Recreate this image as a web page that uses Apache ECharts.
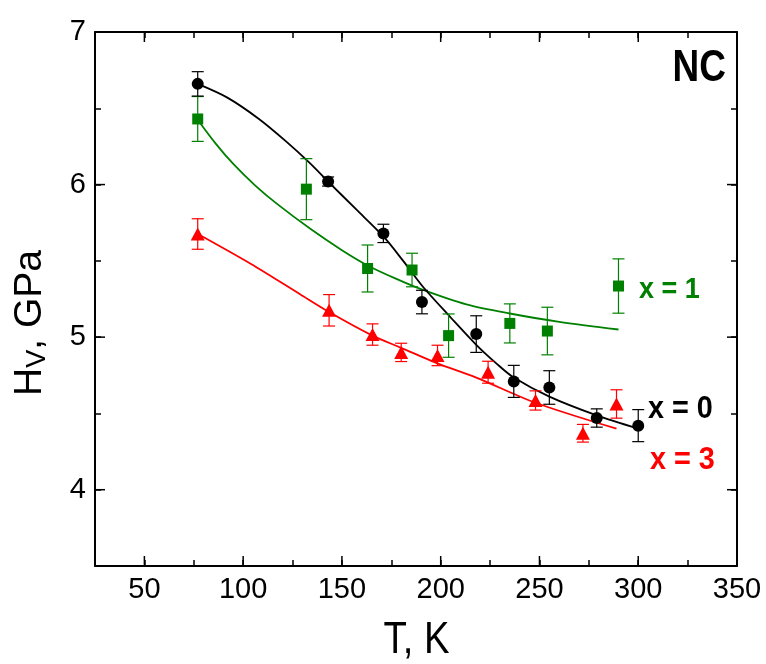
<!DOCTYPE html>
<html>
<head>
<meta charset="utf-8">
<script src="https://cdn.jsdelivr.net/npm/echarts@6/dist/echarts.min.js"></script>
<style>html,body{margin:0;padding:0;background:#fff;}#c{width:766px;height:664px;}</style>
</head>
<body>
<div id="c"></div>
<script>
// ---- data ----
const xTicksMajor = [50, 100, 150, 200, 250, 300, 350];
const yTicksMajor = [4, 5, 6, 7];

// x = 0 (black circles)
const T0 = [77, 143, 171, 190.5, 218, 237, 255, 279, 300];
const H0 = [6.66, 6.02, 5.68, 5.23, 5.02, 4.71, 4.67, 4.47, 4.42];
const E0 = [0.08, 0.03, 0.06, 0.077, 0.12, 0.105, 0.11, 0.06, 0.105];
// x = 1 (green squares)
const T1 = [77, 132, 163, 185.5, 204, 235, 254, 290];
const H1 = [6.43, 5.97, 5.45, 5.44, 5.01, 5.09, 5.04, 5.335];
const E1 = [0.147, 0.2, 0.154, 0.11, 0.142, 0.128, 0.156, 0.178];
// x = 3 (red triangles)
const T3 = [77, 143.5, 165.5, 180, 198.4, 224, 248, 272, 289];
const H3 = [5.676, 5.176, 5.017, 4.90, 4.88, 4.77, 4.585, 4.37, 4.562];
const E3 = [0.1, 0.103, 0.07, 0.06, 0.067, 0.072, 0.063, 0.058, 0.093];

// fitted curves
const fit0T = [77, 92, 108, 122, 133, 143, 157, 171, 181, 191, 205, 218, 228, 237, 255, 279, 300];
const fit0H = [6.66, 6.57, 6.43, 6.28, 6.15, 6.02, 5.84, 5.66, 5.50, 5.33, 5.13, 4.95, 4.83, 4.735, 4.61, 4.487, 4.40];
const fit1T = [77, 86, 95, 106, 117, 134, 150, 163, 177, 190, 213, 235, 260, 290];
const fit1H = [6.425, 6.27, 6.135, 5.995, 5.875, 5.71, 5.57, 5.47, 5.385, 5.315, 5.215, 5.155, 5.10, 5.05];
const fit3T = [78, 104, 129, 143.5, 165.5, 180, 198, 218, 248, 289];
const fit3H = [5.67, 5.48, 5.28, 5.165, 5.01, 4.93, 4.83, 4.735, 4.57, 4.40];

const X_MIN = 25, X_MAX = 350, Y_MIN = 3.5, Y_MAX = 7;
const GREEN = '#008000', RED = '#ff0000', BLACK = '#000000';
const FONT = 'Liberation Sans, Arial, Helvetica, sans-serif';

const zip = (a, b) => a.map((v, i) => [v, b[i]]);
const errData = (T, H, E) => T.map((t, i) => [t, H[i] - E[i], H[i] + E[i]]);

function errorBarSeries(T, H, E, color) {
  return {
    type: 'custom',
    silent: true,
    z: 3,
    data: errData(T, H, E),
    encode: { x: 0, y: [1, 2] },
    renderItem: function (params, api) {
      const x = api.value(0);
      const lo = api.coord([x, api.value(1)]);
      const hi = api.coord([x, api.value(2)]);
      const hw = 6;
      const st = { stroke: color, lineWidth: 1.2 };
      return {
        type: 'group',
        children: [
          { type: 'line', shape: { x1: lo[0], y1: lo[1], x2: hi[0], y2: hi[1] }, style: st },
          { type: 'line', shape: { x1: lo[0] - hw, y1: lo[1], x2: lo[0] + hw, y2: lo[1] }, style: st },
          { type: 'line', shape: { x1: hi[0] - hw, y1: hi[1], x2: hi[0] + hw, y2: hi[1] }, style: st }
        ]
      };
    }
  };
}

const axisLineStyle = { color: '#000', width: 2 };
const tickStyle = { color: '#000', width: 1.5 };

const chart = echarts.init(document.getElementById('c'), null, { renderer: 'canvas' });
const option = {
  animation: false,
  backgroundColor: '#fff',
  grid: { left: 95, right: 29, top: 32, bottom: 98, containLabel: false, outerBoundsMode: 'none' },
  xAxis: [
    {
      type: 'value', min: X_MIN, max: X_MAX, interval: 25, position: 'bottom',
      axisLine: { onZero: false, lineStyle: axisLineStyle },
      axisTick: { inside: true, length: 6, lineStyle: tickStyle },
      axisLabel: {
        formatter: v => (v % 50 === 0 ? String(v) : ''),
        fontSize: 29, color: '#000', fontFamily: FONT, margin: 9,
        showMinLabel: true, showMaxLabel: true
      },
      splitLine: { show: false }
    },
    {
      type: 'value', min: X_MIN, max: X_MAX, interval: 25, position: 'top',
      axisLine: { onZero: false, lineStyle: axisLineStyle },
      axisTick: { inside: true, length: 6, lineStyle: tickStyle },
      axisLabel: { show: false },
      splitLine: { show: false }
    }
  ],
  yAxis: [
    {
      type: 'value', min: Y_MIN, max: Y_MAX, interval: 0.5, position: 'left',
      axisLine: { onZero: false, lineStyle: axisLineStyle },
      axisTick: { inside: true, length: 6, lineStyle: tickStyle },
      axisLabel: {
        formatter: v => (Math.abs(v - Math.round(v)) < 1e-9 ? String(Math.round(v)) : ''),
        fontSize: 29, color: '#000', fontFamily: FONT, margin: 9,
        showMinLabel: true, showMaxLabel: true
      },
      splitLine: { show: false }
    },
    {
      type: 'value', min: Y_MIN, max: Y_MAX, interval: 0.5, position: 'right',
      axisLine: { onZero: false, lineStyle: axisLineStyle },
      axisTick: { inside: true, length: 6, lineStyle: tickStyle },
      axisLabel: { show: false },
      splitLine: { show: false }
    }
  ],
  series: [
    // major ticks (longer) on bottom/top
    {
      type: 'custom', silent: true, z: 1,
      data: xTicksMajor.map(v => [v, Y_MIN]),
      encode: { x: 0, y: 1 },
      renderItem: function (params, api) {
        const v = api.value(0);
        const b = api.coord([v, Y_MIN]);
        const t = api.coord([v, Y_MAX]);
        return {
          type: 'group', children: [
            { type: 'line', shape: { x1: b[0], y1: b[1], x2: b[0], y2: b[1] - 10 }, style: { stroke: '#000', lineWidth: 1.5 } },
            { type: 'line', shape: { x1: t[0], y1: t[1], x2: t[0], y2: t[1] + 10 }, style: { stroke: '#000', lineWidth: 1.5 } }
          ]
        };
      }
    },
    // major ticks on left/right
    {
      type: 'custom', silent: true, z: 1,
      data: yTicksMajor.map(v => [X_MIN, v]),
      encode: { x: 0, y: 1 },
      renderItem: function (params, api) {
        const v = api.value(1);
        const l = api.coord([X_MIN, v]);
        const r = api.coord([X_MAX, v]);
        return {
          type: 'group', children: [
            { type: 'line', shape: { x1: l[0], y1: l[1], x2: l[0] + 10, y2: l[1] }, style: { stroke: '#000', lineWidth: 1.5 } },
            { type: 'line', shape: { x1: r[0], y1: r[1], x2: r[0] - 10, y2: r[1] }, style: { stroke: '#000', lineWidth: 1.5 } }
          ]
        };
      }
    },
    // fitted curves
    { type: 'line', data: zip(fit1T, fit1H), smooth: 0.3, symbol: 'none', lineStyle: { color: GREEN, width: 1.8 }, z: 2, silent: true },
    { type: 'line', data: zip(fit3T, fit3H), smooth: 0.3, symbol: 'none', lineStyle: { color: RED, width: 1.8 }, z: 2, silent: true },
    { type: 'line', data: zip(fit0T, fit0H), smooth: 0.3, symbol: 'none', lineStyle: { color: BLACK, width: 1.8 }, z: 2, silent: true },
    // error bars
    errorBarSeries(T1, H1, E1, GREEN),
    errorBarSeries(T3, H3, E3, RED),
    errorBarSeries(T0, H0, E0, BLACK),
    // markers
    { type: 'scatter', data: zip(T1, H1), symbol: 'rect', symbolSize: 11, itemStyle: { color: GREEN, opacity: 1 }, z: 4 },
    { type: 'scatter', data: zip(T3, H3), symbol: 'triangle', symbolSize: [14, 13], itemStyle: { color: RED, opacity: 1 }, z: 4 },
    { type: 'scatter', data: zip(T0, H0), symbol: 'circle', symbolSize: 12, itemStyle: { color: BLACK, opacity: 1 }, z: 4 }
  ],
  graphic: [
    { type: 'text', x: 726, y: 69, scaleX: 0.84, style: { text: 'NC', font: 'bold 44px ' + FONT, fill: '#000', textAlign: 'right', textVerticalAlign: 'middle' } },
    { type: 'text', x: 639, y: 290, scaleX: 0.9, style: { text: 'x = 1', font: 'bold 30px ' + FONT, fill: GREEN, textAlign: 'left', textVerticalAlign: 'middle' } },
    { type: 'text', x: 648, y: 409, scaleX: 0.9, style: { text: 'x = 0', font: 'bold 32px ' + FONT, fill: BLACK, textAlign: 'left', textVerticalAlign: 'middle' } },
    { type: 'text', x: 650, y: 460, scaleX: 0.9, style: { text: 'x = 3', font: 'bold 32px ' + FONT, fill: RED, textAlign: 'left', textVerticalAlign: 'middle' } },
    { type: 'text', x: 416.5, y: 641, scaleX: 0.87, style: { text: 'T, K', font: '44px ' + FONT, fill: '#000', textAlign: 'center', textVerticalAlign: 'middle' } },
    {
      type: 'text', x: 30, y: 323, rotation: Math.PI / 2,
      style: {
        text: '{a|H}{b|V}{a|, GPa}',
        textAlign: 'center', textVerticalAlign: 'middle', fill: '#000',
        rich: {
          a: { fontSize: 39, fontFamily: FONT, lineHeight: 42, verticalAlign: 'middle' },
          b: { fontSize: 27, fontFamily: FONT, lineHeight: 27, verticalAlign: 'bottom' }
        }
      }
    }
  ]
};
chart.setOption(option);
</script>
</body>
</html>
